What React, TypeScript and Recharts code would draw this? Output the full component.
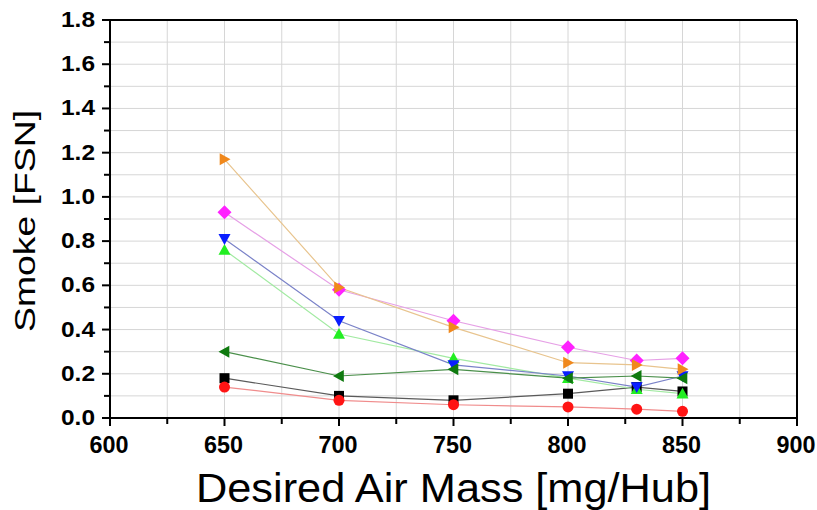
import { LineChart, Line, XAxis, YAxis, CartesianGrid, ReferenceLine } from 'recharts';

// Smoke vs desired air mass, seven operating variants
const airMass = [650, 700, 750, 800, 830, 850];
const squareBlack = [0.18, 0.1, 0.08, 0.11, 0.14, 0.12];
const circleRed = [0.14, 0.08, 0.06, 0.05, 0.04, 0.03];
const triUpGreen = [0.76, 0.38, 0.27, 0.18, 0.13, 0.11];
const triDownBlue = [0.81, 0.44, 0.24, 0.19, 0.14, 0.19];
const triLeftDarkGreen = [0.3, 0.19, 0.22, 0.18, 0.19, 0.18];
const diamondMagenta = [0.93, 0.58, 0.44, 0.32, 0.26, 0.27];
const triRightOrange = [1.17, 0.59, 0.41, 0.25, 0.24, 0.22];

const xTicks = [600, 625, 650, 675, 700, 725, 750, 775, 800, 825, 850, 875, 900];
const yTicks = [0, 0.1, 0.2, 0.3, 0.4, 0.5, 0.6, 0.7, 0.8, 0.9, 1.0, 1.1, 1.2, 1.3, 1.4, 1.5, 1.6, 1.7, 1.8];

const data = airMass.map((x, i) => ({
  x,
  black: squareBlack[i],
  red: circleRed[i],
  green: triUpGreen[i],
  blue: triDownBlue[i],
  dkgreen: triLeftDarkGreen[i],
  magenta: diamondMagenta[i],
  orange: triRightOrange[i],
}));

type Shape = 'square' | 'circle' | 'up' | 'down' | 'left' | 'right' | 'diamond';

function marker(shape: Shape, fill: string) {
  return (props: any) => {
    const { cx, cy, index } = props;
    const k = `${shape}-${index}`;
    if (cx == null || cy == null) return <g key={k} />;
    const r = 6;
    switch (shape) {
      case 'square':
        return <rect key={k} x={cx - 5} y={cy - 5} width={10} height={10} fill={fill} />;
      case 'circle':
        return <circle key={k} cx={cx} cy={cy} r={5.5} fill={fill} />;
      case 'up':
        return <polygon key={k} points={`${cx},${cy - r} ${cx + r},${cy + r * 0.8} ${cx - r},${cy + r * 0.8}`} fill={fill} />;
      case 'down':
        return <polygon key={k} points={`${cx},${cy + r} ${cx + r},${cy - r * 0.8} ${cx - r},${cy - r * 0.8}`} fill={fill} />;
      case 'left':
        return <polygon key={k} points={`${cx - r},${cy} ${cx + r * 0.8},${cy - r} ${cx + r * 0.8},${cy + r}`} fill={fill} />;
      case 'right':
        return <polygon key={k} points={`${cx + r},${cy} ${cx - r * 0.8},${cy - r} ${cx - r * 0.8},${cy + r}`} fill={fill} />;
      default:
        return <polygon key={k} points={`${cx},${cy - 7} ${cx + 7},${cy} ${cx},${cy + 7} ${cx - 7},${cy}`} fill={fill} />;
    }
  };
}

const series: { key: string; shape: Shape; fill: string; line: string }[] = [
  { key: 'black', shape: 'square', fill: '#000000', line: '#5a5a5a' },
  { key: 'red', shape: 'circle', fill: '#ff1414', line: '#f08c8c' },
  { key: 'green', shape: 'up', fill: '#22ee22', line: '#a2eaa2' },
  { key: 'blue', shape: 'down', fill: '#0a1eff', line: '#7a82c8' },
  { key: 'dkgreen', shape: 'left', fill: '#0f7a0f', line: '#4a8f4a' },
  { key: 'magenta', shape: 'diamond', fill: '#ff22ff', line: '#e6a0e6' },
  { key: 'orange', shape: 'right', fill: '#f0881c', line: '#e8c48e' },
];

const FONT = 'Liberation Sans, Arial, sans-serif';

function XTick(props: any) {
  const { x, y, payload } = props;
  const major = payload.value % 50 === 0;
  return (
    <g>
      <line x1={x} y1={y} x2={x} y2={y + (major ? 8 : 6)} stroke="#000" strokeWidth={2} />
      {major && (
        <text
          x={x - 1}
          y={y + 35}
          textAnchor="middle"
          fill="#000"
          fontFamily={FONT}
          fontWeight={700}
          fontSize={24}
          textLength={39}
          lengthAdjust="spacingAndGlyphs"
        >
          {payload.value}
        </text>
      )}
    </g>
  );
}

function YTick(props: any) {
  const { x, y, payload } = props;
  const v = Math.round(payload.value * 10);
  const major = v % 2 === 0;
  return (
    <g>
      <line x1={x} y1={y} x2={x - (major ? 8 : 6)} y2={y} stroke="#000" strokeWidth={2} />
      {major && (
        <text
          x={x - 15}
          y={y + 7}
          textAnchor="end"
          fill="#000"
          fontFamily={FONT}
          fontWeight={700}
          fontSize={22}
          textLength={34}
          lengthAdjust="spacingAndGlyphs"
        >
          {(v / 10).toFixed(1)}
        </text>
      )}
    </g>
  );
}

export default function App() {
  return (
    <div style={{ position: 'absolute', left: 0, top: 0, width: 817, height: 510, background: '#fff' }}>
      <LineChart width={817} height={510} data={data} margin={{ top: 20, right: 20, bottom: 0, left: 0 }}>
        <CartesianGrid stroke="#d6d6d6" strokeWidth={1} />
        <XAxis
          dataKey="x"
          type="number"
          domain={[600, 900]}
          ticks={xTicks}
          interval={0}
          height={92}
          tickSize={0}
          tickMargin={0}
          tick={<XTick />}
          axisLine={{ stroke: '#000', strokeWidth: 2 }}
          tickLine={false}
          label={({ viewBox }: any) => (
            <text
              x={viewBox.x + viewBox.width / 2}
              y={viewBox.y + 84}
              textAnchor="middle"
              fill="#000"
              fontFamily={FONT}
              fontSize={40}
              textLength={515}
              lengthAdjust="spacingAndGlyphs"
            >
              Desired Air Mass [mg/Hub]
            </text>
          )}
        />
        <YAxis
          type="number"
          domain={[0, 1.8]}
          ticks={yTicks}
          interval={0}
          width={110}
          tickSize={0}
          tickMargin={0}
          tick={<YTick />}
          axisLine={{ stroke: '#000', strokeWidth: 2 }}
          tickLine={false}
          label={({ viewBox }: any) => {
            const cx = 24;
            const cy = viewBox.y + viewBox.height / 2 + 2;
            return (
              <text
                x={cx}
                y={cy}
                transform={`rotate(-90 ${cx} ${cy})`}
                textAnchor="middle"
                dominantBaseline="central"
                fill="#000"
                fontFamily={FONT}
                fontSize={30}
                textLength={222}
                lengthAdjust="spacingAndGlyphs"
              >
                Smoke [FSN]
              </text>
            );
          }}
        />
        <ReferenceLine y={1.8} stroke="#000" strokeWidth={2} />
        <ReferenceLine x={900} stroke="#000" strokeWidth={2} />
        {series.map((s) => (
          <Line
            key={s.key}
            dataKey={s.key}
            stroke={s.line}
            strokeWidth={1.2}
            dot={marker(s.shape, s.fill)}
            activeDot={false}
            isAnimationActive={false}
          />
        ))}
      </LineChart>
    </div>
  );
}
